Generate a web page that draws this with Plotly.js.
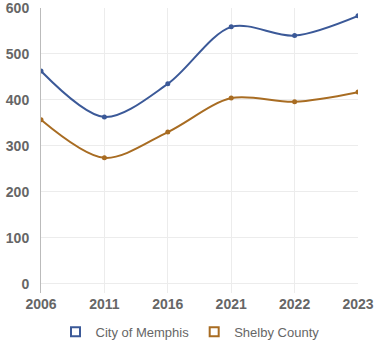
<!DOCTYPE html>
<html><head><meta charset="utf-8">
<script src="https://cdn.plot.ly/plotly-3.0.1.min.js"></script>
<style>body{margin:0;padding:0;background:#fff}#chart{width:380px;height:350px}</style>
</head><body><div id="chart"></div>
<script>
const years = ['2006','2011','2016','2021','2022','2023'];
const memphis = [463, 363, 435, 559, 540, 583];
const shelby = [357, 274, 330, 404, 396, 417];
const seriesNames = ['City of Memphis','Shelby County'];
const colors = ['#3b5998','#a86c22'];

const traces = [memphis, shelby].map((vals, i) => ({
  x: years, y: vals, type: 'scatter', mode: 'lines+markers',
  name: seriesNames[i], showlegend: false, legendgroup: 'g' + i,
  line: {color: colors[i], width: 2, shape: 'spline', smoothing: 0.9},
  marker: {color: colors[i], size: 5}
}));
// legend entries (no data drawn)
seriesNames.forEach((n, i) => traces.push({
  x: [null], y: [null], type: 'scatter', mode: 'markers', name: n,
  legendgroup: 'g' + i,
  marker: {symbol: 'square-open', color: colors[i], size: 9, line: {width: 2, color: colors[i]}}
}));

const font = 'Liberation Sans, Arial, sans-serif';
const layout = {
  width: 380, height: 350,
  margin: {l: 41, r: 22, t: 8, b: 57, autoexpand: false},
  paper_bgcolor: '#fff', plot_bgcolor: '#fff',
  showlegend: true,
  legend: {orientation: 'h', x: 0.5, xref: 'container', xanchor: 'center',
    y: 0.052, yref: 'container', yanchor: 'middle', itemwidth: 30, tracegroupgap: 0,
    font: {family: font, size: 13, color: '#666'}},
  xaxis: {type: 'category', range: [0, 5], showgrid: true, gridcolor: '#ececec',
    zeroline: false, showline: false, ticks: '', ticklabelstandoff: 1, ticklabeloverflow: 'allow',
    tickfont: {family: font, size: 14, color: '#666', weight: 'bold'}},
  yaxis: {range: [-20, 600], tickvals: [0,100,200,300,400,500,600], showgrid: true, gridcolor: '#ececec',
    zeroline: false, showline: true, linecolor: '#bbb', linewidth: 1, ticks: '', ticklabelstandoff: 8,
    ticklabeloverflow: 'allow',
    tickfont: {family: font, size: 14, color: '#666', weight: 'bold'}}
};
Plotly.newPlot('chart', traces, layout, {displayModeBar: false});
</script></body></html>
